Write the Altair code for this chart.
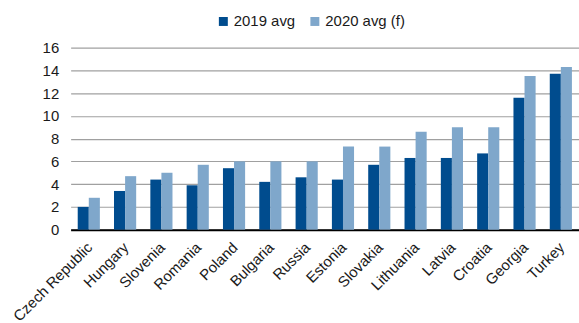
import altair as alt
import pandas as pd

countries = ["Czech Republic", "Hungary", "Slovenia", "Romania", "Poland", "Bulgaria",
             "Russia", "Estonia", "Slovakia", "Lithuania", "Latvia", "Croatia",
             "Georgia", "Turkey"]
avg_2019 = [2.0, 3.4, 4.4, 3.9, 5.4, 4.2, 4.6, 4.4, 5.7, 6.3, 6.3, 6.7, 11.6, 13.7]
avg_2020 = [2.8, 4.7, 5.0, 5.7, 6.0, 6.0, 6.0, 7.3, 7.3, 8.6, 9.0, 9.0, 13.5, 14.3]
series = ["2019 avg", "2020 avg (f)"]
colors = ["#004C8E", "#7FA7CB"]
y_ticks = [0, 2, 4, 6, 8, 10, 12, 14, 16]

rows = []
for c, a, b in zip(countries, avg_2019, avg_2020):
    rows.append({"country": c, "series": series[0], "value": a})
    rows.append({"country": c, "series": series[1], "value": b})
df = pd.DataFrame(rows)

FONT = "Liberation Sans"

chart = alt.Chart(df).mark_bar().encode(
    x=alt.X("country:N", sort=countries, title=None,
            scale=alt.Scale(paddingInner=0.39, paddingOuter=0.195),
            axis=alt.Axis(labelAngle=-45, labelAlign="right", labelBaseline="top",
                          labelPadding=10, labelOffset=-4, ticks=False, domainColor="#000000",
                          domainWidth=2, labelFontSize=15, labelColor="#1a1a1a",
                          labelFont=FONT, grid=False, labelOverlap=False)),
    xOffset=alt.XOffset("series:N", sort=series),
    y=alt.Y("value:Q", title=None,
            scale=alt.Scale(domain=[0, 16], nice=False),
            axis=alt.Axis(values=y_ticks, domain=False, ticks=False, labelPadding=12,
                          labelFontSize=15, labelColor="#1a1a1a", labelFont=FONT,
                          gridColor="#a0a0a0", gridWidth=1.2)),
    color=alt.Color("series:N", sort=series,
                    scale=alt.Scale(domain=series, range=colors),
                    legend=alt.Legend(title=None, orient="none", legendX=146, legendY=-34,
                                      direction="horizontal", symbolType="square",
                                      symbolSize=81, symbolStrokeWidth=0,
                                      labelFontSize=15, labelFont=FONT, labelColor="#1a1a1a",
                                      labelOffset=3, columnPadding=12, padding=0)),
).properties(
    width=511, height=183,
    autosize=alt.AutoSizeParams(type="none"),
    padding={"left": 71, "top": 47, "right": 0, "bottom": 93},
).configure_view(stroke=None)

chart.save("out.html", embed_options={"renderer": "svg", "actions": False})
